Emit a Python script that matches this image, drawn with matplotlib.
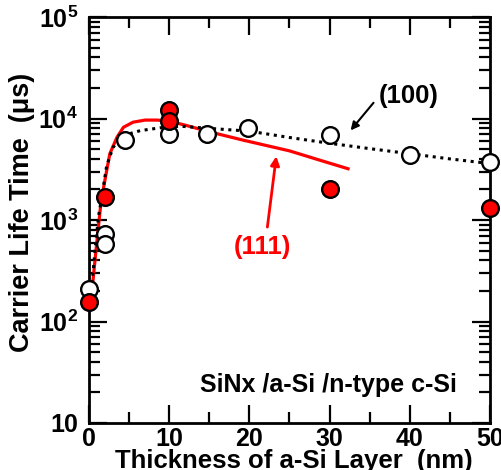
import matplotlib
matplotlib.use("Agg")
from matplotlib import pyplot as plt
from matplotlib import ticker
import numpy as np

plt.rcParams["font.family"] = ["Liberation Sans", "DejaVu Sans"]
plt.rcParams["font.weight"] = "bold"
plt.rcParams["mathtext.fontset"] = "custom"
plt.rcParams["mathtext.rm"] = "Liberation Sans:bold"
plt.rcParams["mathtext.bf"] = "Liberation Sans:bold"

# (100) measured lifetimes, open circles
x100 = [0, 2, 2, 4.5, 10, 14.7, 19.8, 30, 40, 50]
y100 = [207, 720, 580, 6200, 7100, 7100, 8150, 6950, 4350, 3700]

# (111) measured lifetimes, red filled circles
x111 = [0, 2, 10, 10, 30, 50]
y111 = [154, 1690, 12000, 9350, 2020, 1320]

# (111) trend line (solid red)
fit111_x = [0.2, 0.5, 1.0, 1.5, 2.0, 2.6, 3.5, 4.3, 5.5, 7.0, 8.5, 10, 12, 15, 19.3, 25, 28.9, 32.3]
fit111_y = [160, 254, 630, 1500, 2500, 4500, 6550, 8200, 9200, 9650, 9650, 9400, 8600, 7400, 6100, 4800, 3860, 3200]

# (100) trend line (dotted black)
fit100_x = [0.3, 0.8, 1.2, 1.6, 2.2, 3.0, 4.3, 6.4, 8.9, 11.4, 15, 20, 25, 30, 35, 40, 45, 50]
fit100_y = [200, 550, 1100, 1680, 3400, 5200, 6800, 7600, 8100, 8400, 8000, 7500, 6500, 5700, 5050, 4500, 4000, 3600]

fig = plt.figure(figsize=(5.01, 4.70), dpi=100)
ax = fig.add_axes([0.1776, 0.1, 0.8004, 0.8638])

ax.plot(fit111_x, fit111_y, color="red", lw=2.3, zorder=2)
ax.plot(fit100_x, fit100_y, color="black", lw=2.2, linestyle=(0, (1, 1.5)),
        dash_capstyle="butt", zorder=2)

ax.plot(x100, y100, "o", ms=12, mfc="white", mec="black", mew=1.7, zorder=3,
        clip_on=False)
ax.plot(x111, y111, "o", ms=12, mfc="red", mec="black", mew=1.7, zorder=4,
        clip_on=False)

ax.set_yscale("log")
ax.set_xlim(0, 50)
ax.set_ylim(10, 1e5)


def ylabel_fmt(v, pos):
    n = int(round(np.log10(v)))
    if n == 1:
        return "10"
    return r"$\mathbf{10^{%d}}$" % n


ax.yaxis.set_major_locator(ticker.LogLocator(base=10, numticks=10))
ax.yaxis.set_minor_locator(ticker.LogLocator(base=10, subs=np.arange(2, 10), numticks=20))
ax.yaxis.set_major_formatter(ticker.FuncFormatter(ylabel_fmt))
ax.yaxis.set_minor_formatter(ticker.NullFormatter())
ax.xaxis.set_major_locator(ticker.MultipleLocator(10))
ax.xaxis.set_minor_locator(ticker.MultipleLocator(5))

ax.tick_params(which="both", direction="in", top=True, right=True, width=1.6)
ax.tick_params(which="major", length=13, labelsize=18)
ax.tick_params(which="minor", length=8)
ax.tick_params(axis="y", which="major", pad=8)
ax.tick_params(axis="x", which="major", pad=3)
for s in ax.spines.values():
    s.set_linewidth(2)

ax.set_xlabel("Thickness of a-Si Layer  (nm)", fontsize=18.5, fontweight="bold")
ax.set_ylabel("Carrier Life Time  (\u03bcs)", fontsize=19.5, fontweight="bold")
ax.xaxis.set_label_coords(0.511, -0.063)
ax.yaxis.set_label_coords(-0.135, 0.52)

ax.annotate("", xy=(32.4, 7280), xytext=(35.7, 15000),
            arrowprops=dict(arrowstyle="-|>", color="black", lw=1.5, mutation_scale=12))
ax.text(39.9, 16800, "(100)", fontsize=18.5, fontweight="bold", ha="center", va="center")

ax.annotate("", xy=(23.4, 4520), xytext=(22.2, 800),
            arrowprops=dict(arrowstyle="-|>", color="red", lw=2, mutation_scale=13))
ax.text(21.6, 540, "(111)", fontsize=18.5, fontweight="bold", color="red",
        ha="center", va="center")

ax.text(0.918, 0.094, "SiNx /a-Si /n-type c-Si", transform=ax.transAxes,
        fontsize=18, fontweight="bold", ha="right", va="center")

fig.savefig("out.png", dpi=100)
